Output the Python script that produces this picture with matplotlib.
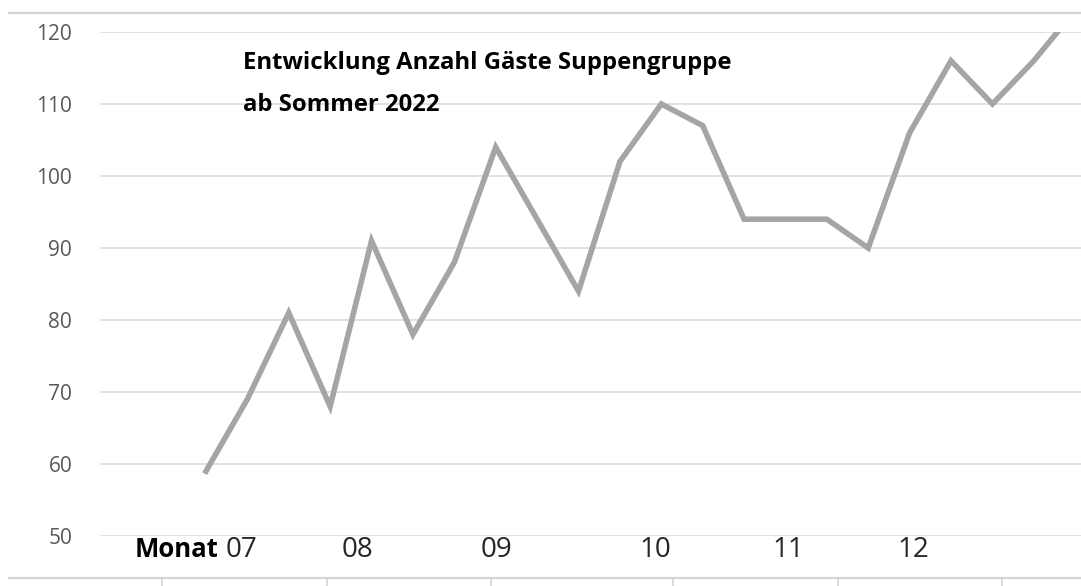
import matplotlib
matplotlib.use("Agg")
import matplotlib.pyplot as plt

# weekly guest counts, summer 2022 onwards
guests = [59, 69, 81, 68, 91, 78, 88, 104, 94, 84, 102, 110,
          107, 94, 94, 94, 90, 106, 116, 110, 116, 123]
weeks = list(range(len(guests)))

# month labels and where they sit along the week axis
month_labels = ["07", "08", "09", "10", "11", "12"]
month_pos = [0.87, 3.67, 7.03, 10.85, 14.06, 17.08]
y_ticks = [50, 60, 70, 80, 90, 100, 110, 120]

title = "Entwicklung Anzahl Gäste Suppengruppe\nab Sommer 2022"

plt.rcParams["font.family"] = ["Open Sans", "DejaVu Sans"]

W, H = 1081, 586
fig = plt.figure(figsize=(W / 100, H / 100), dpi=100)

# frame lines of the original sheet (top border, bottom axis with ticks)
frame = fig.add_axes([0, 0, 1, 1], zorder=-1)
frame.set_xlim(0, W)
frame.set_ylim(H, 0)
frame.axis("off")
frame.hlines([13, 578], 8, W, color="#d4d4d4", lw=1.6)
frame.vlines([162, 327, 491, 673, 838, 1002], 578, H, color="#d4d4d4", lw=1.2)

# main plot area
left, right, top, bottom = 100, W, 32, 536
ax = fig.add_axes([left / W, (H - bottom) / H, (right - left) / W, (bottom - top) / H])
ax.plot(weeks, guests, color="#a5a5a5", lw=4.0, solid_joinstyle="miter")
ax.set_xlim(-2.56, 21.14)
ax.set_ylim(50, 120)
ax.set_yticks(y_ticks)
ax.grid(axis="y", color="#d9d9d9", lw=1.1)
ax.set_axisbelow(True)
for s in ax.spines.values():
    s.set_visible(False)
ax.set_xticks([])
ax.tick_params(axis="y", length=0, pad=20, labelsize=15, labelcolor="#595959")
ax.patch.set_alpha(0)

for pos, lab in zip(month_pos, month_labels):
    ax.text(pos, 48.1, lab, ha="center", va="center", fontsize=20,
            color="#262626", clip_on=False)
ax.text(-0.72, 48.1, "Monat", ha="center", va="center", fontsize=18.5,
        fontweight="bold", color="black", clip_on=False)

ax.text(0.89, 117.3, title, ha="left", va="top", fontsize=17.2,
        fontweight="bold", color="black", linespacing=1.96)

fig.savefig("out.png", dpi=100)
